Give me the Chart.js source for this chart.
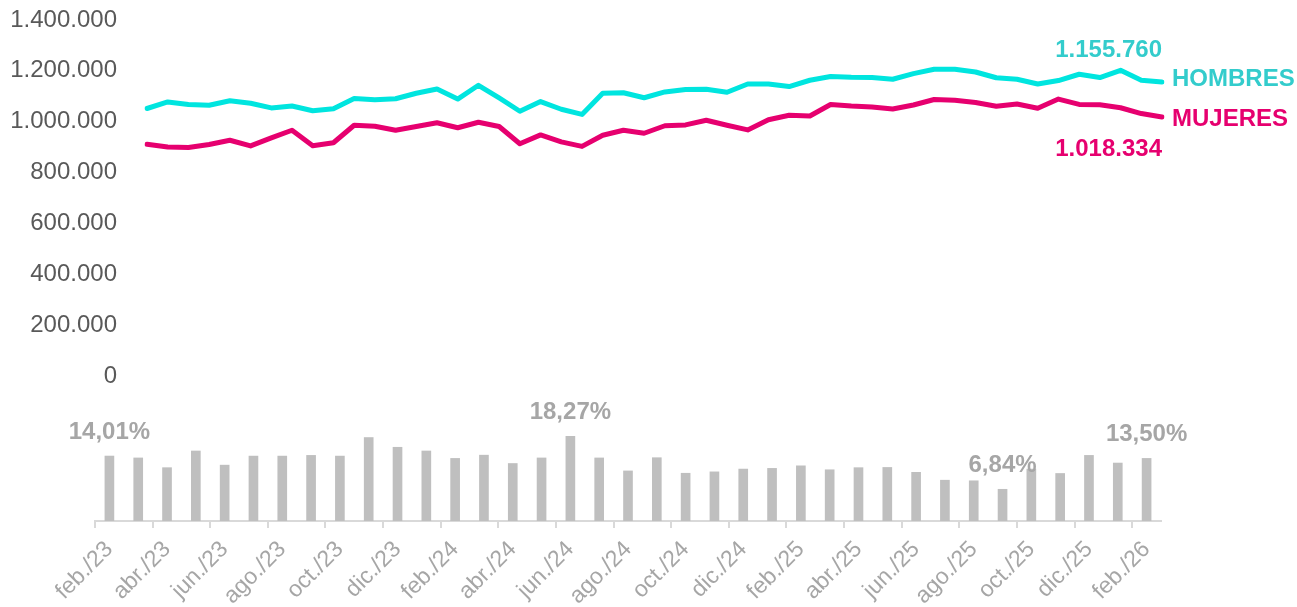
<!DOCTYPE html>
<html lang="es">
<head>
<meta charset="utf-8">
<title>Hombres y mujeres</title>
<script src="https://cdn.jsdelivr.net/npm/chart.js@4.4.1/dist/chart.umd.min.js"></script>
<style>
  html, body { margin: 0; padding: 0; background: #fff; }
  #wrap { position: relative; width: 1297px; height: 607px; overflow: hidden; }
  #lineChart { position: absolute; left: 0; top: 0; }
  #barChart { position: absolute; left: 0; top: 380px; }
</style>
</head>
<body>
<div id="wrap">
  <canvas id="lineChart" width="1297" height="400"></canvas>
  <canvas id="barChart" width="1297" height="227"></canvas>
</div>
<script>
// series de la parte de arriba (50 puntos)
const hombres = [
  1052000, 1077700, 1067500, 1064800, 1082400, 1072600, 1054200, 1062000, 1043100, 1051000,
  1091100, 1086400, 1090300, 1111900, 1128800, 1089100, 1143300, 1093400, 1041200, 1079300,
  1049000, 1028600, 1111900, 1113900, 1094200, 1117000, 1126400, 1127600, 1115800, 1148400,
  1148400, 1138200, 1163000, 1177500, 1174800, 1174000, 1166900, 1189300, 1206200, 1206200,
  1195600, 1172800, 1166900, 1148100, 1161800, 1186600, 1173600, 1202300, 1163000, 1155760
];
const mujeres = [
  911500, 900900, 898600, 910300, 927200, 904800, 936300, 966500, 905600, 917400,
  986200, 982300, 966500, 981100, 996000, 976400, 998000, 981100, 913500, 948100,
  920600, 902900, 946900, 966500, 954700, 984200, 987400, 1005800, 986200, 967700,
  1007800, 1025500, 1022700, 1067900, 1061600, 1057700, 1050200, 1065900, 1087200, 1084400,
  1075800, 1060800, 1069900, 1053000, 1089100, 1067900, 1066700, 1054900, 1032100, 1018334
];
const puntos = hombres.map((v, i) => String(i + 1));

// brecha mensual (%)
const meses = [
  'feb./23', 'mar./23', 'abr./23', 'may./23', 'jun./23', 'jul./23', 'ago./23', 'sep./23', 'oct./23', 'nov./23',
  'dic./23', 'ene./24', 'feb./24', 'mar./24', 'abr./24', 'may./24', 'jun./24', 'jul./24', 'ago./24', 'sep./24',
  'oct./24', 'nov./24', 'dic./24', 'ene./25', 'feb./25', 'mar./25', 'abr./25', 'may./25', 'jun./25', 'jul./25',
  'ago./25', 'sep./25', 'oct./25', 'nov./25', 'dic./25', 'ene./26', 'feb./26'
];
const brecha = [
  14.01, 13.6, 11.5, 15.1, 12.05, 14.0, 14.0, 14.15, 14.0, 18.0,
  15.9, 15.1, 13.5, 14.2, 12.4, 13.6, 18.27, 13.6, 10.8, 13.65,
  10.3, 10.6, 11.2, 11.35, 11.9, 11.05, 11.5, 11.55, 10.5, 8.8,
  8.67, 6.84, 11.2, 10.25, 14.15, 12.5, 13.5
];
const brechaRotulos = [0, 16, 31, 36]; // barras con su valor encima

const yTicks = [0, 200000, 400000, 600000, 800000, 1000000, 1200000, 1400000];

const FONT = '"Liberation Sans", Arial, sans-serif';
const CIAN = '#00E5DF';
const MAGENTA = '#E6006F';

function miles(n) {
  return String(Math.round(n)).replace(/\B(?=(\d{3})+(?!\d))/g, '.');
}

// nombre y ultimo valor al final de cada linea
const endLabels = {
  id: 'endLabels',
  afterDatasetsDraw(chart) {
    const ctx = chart.ctx;
    ctx.save();
    ctx.font = 'bold 24px ' + FONT;
    ctx.textBaseline = 'middle';
    chart.data.datasets.forEach((ds, i) => {
      const meta = chart.getDatasetMeta(i);
      const pt = meta.data[meta.data.length - 1];
      ctx.fillStyle = ds.textColor;
      ctx.textAlign = 'left';
      ctx.fillText(ds.label, pt.x + 10, pt.y + ds.nameShift);
      ctx.textAlign = 'right';
      ctx.fillText(miles(ds.data[ds.data.length - 1]), pt.x, pt.y + ds.valueShift);
    });
    ctx.restore();
  }
};

new Chart(document.getElementById('lineChart'), {
  type: 'line',
  data: {
    labels: puntos,
    datasets: [
      {
        label: 'HOMBRES',
        data: hombres,
        borderColor: CIAN,
        textColor: '#33CCCC',
        nameShift: -3,
        valueShift: -32,
        borderWidth: 5,
        pointRadius: 0,
        tension: 0,
        borderJoinStyle: 'round',
        borderCapStyle: 'round'
      },
      {
        label: 'MUJERES',
        data: mujeres,
        borderColor: MAGENTA,
        textColor: MAGENTA,
        nameShift: 2,
        valueShift: 32,
        borderWidth: 5,
        pointRadius: 0,
        tension: 0,
        borderJoinStyle: 'round',
        borderCapStyle: 'round'
      }
    ]
  },
  options: {
    responsive: false,
    animation: false,
    layout: { padding: { top: 20, right: 135, bottom: 24, left: 0 } },
    plugins: { legend: { display: false }, tooltip: { enabled: false } },
    scales: {
      x: { display: false },
      y: {
        min: 0,
        max: 1400000,
        afterBuildTicks: (scale) => { scale.ticks = yTicks.map(v => ({ value: v })); },
        afterFit: (scale) => {
          scale.width = 147;
          scale.paddingTop = 0;
          scale.paddingBottom = 0;
        },
        grid: { display: false, drawTicks: false },
        border: { display: false },
        ticks: {
          padding: 30,
          color: '#595959',
          font: { family: FONT, size: 24 },
          callback: (v) => miles(v)
        }
      }
    }
  },
  plugins: [endLabels]
});

// porcentaje sobre algunas barras
const barLabels = {
  id: 'barLabels',
  afterDatasetsDraw(chart) {
    const ctx = chart.ctx;
    const meta = chart.getDatasetMeta(0);
    ctx.save();
    ctx.font = 'bold 24px ' + FONT;
    ctx.fillStyle = '#A6A6A6';
    ctx.textAlign = 'center';
    ctx.textBaseline = 'middle';
    brechaRotulos.forEach((i) => {
      const bar = meta.data[i];
      ctx.fillText(brecha[i].toFixed(2).replace('.', ',') + '%', bar.x, bar.y - 24);
    });
    ctx.restore();
  }
};

new Chart(document.getElementById('barChart'), {
  type: 'bar',
  data: {
    labels: meses,
    datasets: [{
      data: brecha,
      backgroundColor: '#BFBFBF',
      barThickness: 9
    }]
  },
  options: {
    responsive: false,
    animation: false,
    layout: { padding: { top: 39, right: 136, bottom: 0, left: 95 } },
    plugins: { legend: { display: false }, tooltip: { enabled: false } },
    scales: {
      y: { display: false, min: 0, max: 22 },
      x: {
        offset: true,
        afterFit: (scale) => { scale.height = 86; },
        grid: {
          offset: true,
          drawOnChartArea: false,
          drawTicks: true,
          tickLength: 7,
          lineWidth: 2,
          color: (c) => (c.index % 2 === 0 ? '#D9D9D9' : 'rgba(0,0,0,0)')
        },
        border: { display: true, color: '#D9D9D9', width: 2 },
        ticks: {
          autoSkip: false,
          maxRotation: 45,
          minRotation: 45,
          padding: 8,
          color: '#A6A6A6',
          font: { family: FONT, size: 23 },
          callback: function (v, i) { return i % 2 === 0 ? this.getLabelForValue(v) : ''; }
        }
      }
    }
  },
  plugins: [barLabels]
});
</script>
</body>
</html>
